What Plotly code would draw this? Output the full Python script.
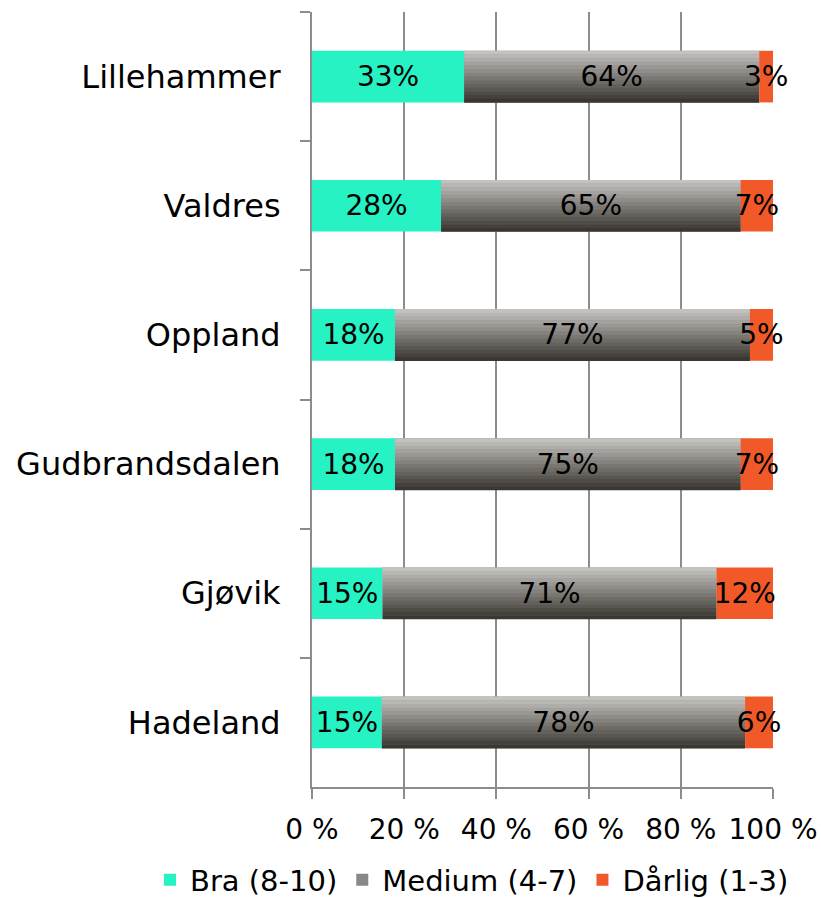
import plotly.graph_objects as go

categories = ["Lillehammer", "Valdres", "Oppland", "Gudbrandsdalen", "Gjøvik", "Hadeland"]
bra = [33, 28, 18, 18, 15, 15]
medium = [64, 65, 77, 75, 71, 78]
darlig = [3, 7, 5, 7, 12, 6]
series_names = ["Bra (8-10)", "Medium (4-7)", "Dårlig (1-3)"]
tick_vals = [0, 20, 40, 60, 80, 100]
tick_text = [f"{v} %" for v in tick_vals]

FONT = "DejaVu Sans"
C_BRA = "#26F2C3"
C_DAR = "#F15A28"
GRAD_TOP = (196, 194, 191)
GRAD_BOT = (58, 55, 50)

totals = [a + b + c for a, b, c in zip(bra, medium, darlig)]
bra_p = [v / t * 100 for v, t in zip(bra, totals)]
med_p = [v / t * 100 for v, t in zip(medium, totals)]
dar_p = [v / t * 100 for v, t in zip(darlig, totals)]
med_base = bra_p
dar_base = [a + b for a, b in zip(bra_p, med_p)]

W = 0.4
TXT = dict(color="black", size=28, family=FONT)
fig = go.Figure()

fig.add_trace(go.Bar(y=categories, x=bra_p, base=[0] * len(categories), orientation="h",
                     name=series_names[0], marker=dict(color=C_BRA, line=dict(width=0)),
                     width=W, text=[f"{v}%" for v in bra], textposition="inside", textangle=0,
                     insidetextanchor="middle", textfont=TXT, hoverinfo="skip"))
fig.add_trace(go.Bar(y=categories, x=med_p, base=med_base, orientation="h",
                     name=series_names[1], marker=dict(color="#8a8885", line=dict(width=0)),
                     width=W, hoverinfo="skip"))
N = 14
for i in range(N):
    f = i / (N - 1)
    col = tuple(round(GRAD_TOP[k] + (GRAD_BOT[k] - GRAD_TOP[k]) * f) for k in range(3))
    fig.add_trace(go.Bar(y=categories, x=med_p, base=med_base, orientation="h",
                         showlegend=False, marker=dict(color="rgb(%d,%d,%d)" % col, line=dict(width=0)),
                         width=W / N + 0.002, offset=-W / 2 + i * W / N,
                         hoverinfo="skip"))
fig.add_trace(go.Bar(y=categories, x=med_p, base=med_base, orientation="h",
                     showlegend=False, marker=dict(color="rgba(0,0,0,0)", line=dict(width=0)),
                     width=W, text=[f"{v}%" for v in medium], textposition="inside", textangle=0,
                     insidetextanchor="middle", textfont=TXT, hoverinfo="skip"))
fig.add_trace(go.Bar(y=categories, x=dar_p, base=dar_base, orientation="h",
                     name=series_names[2], marker=dict(color=C_DAR, line=dict(width=0)),
                     width=W, text=[f"{v}%" for v in darlig], textposition="inside", textangle=0,
                     insidetextanchor="middle", textfont=TXT, hoverinfo="skip", cliponaxis=False))

fig.update_layout(
    width=821, height=898,
    barmode="overlay",
    plot_bgcolor="white", paper_bgcolor="white",
    margin=dict(l=312, r=48, t=12, b=111, autoexpand=False),
    font=dict(family=FONT, size=26, color="black"),
    uniformtext=dict(minsize=28, mode="show"),
    showlegend=True,
    legend=dict(orientation="h", x=(150 - 312) / 461, y=-(880 - 787) / 775,
                xanchor="left", yanchor="middle", font=dict(size=29, family=FONT),
                itemwidth=30, tracegroupgap=0, traceorder="normal"),
    xaxis=dict(range=[0, 100], tickvals=tick_vals, ticktext=tick_text,
               showgrid=True, gridcolor="#8c8c8c", gridwidth=2,
               showline=True, linecolor="#8c8c8c", linewidth=2,
               ticks="outside", ticklen=10, tickwidth=2, tickcolor="#8c8c8c",
               ticklabelstandoff=6,
               tickfont=dict(size=28), zeroline=False, fixedrange=True, automargin=False),
    yaxis=dict(categoryorder="array", categoryarray=categories, autorange="reversed",
               showline=True, linecolor="#8c8c8c", linewidth=2,
               ticks="outside", ticklen=10, tickwidth=2, tickcolor="#8c8c8c",
               tickson="boundaries", showgrid=False, ticklabelstandoff=23,
               tickfont=dict(size=32), fixedrange=True, automargin=False),
)

fig.write_html("out.html", config={"displayModeBar": False},
               post_script="document.body.style.margin='0';")
